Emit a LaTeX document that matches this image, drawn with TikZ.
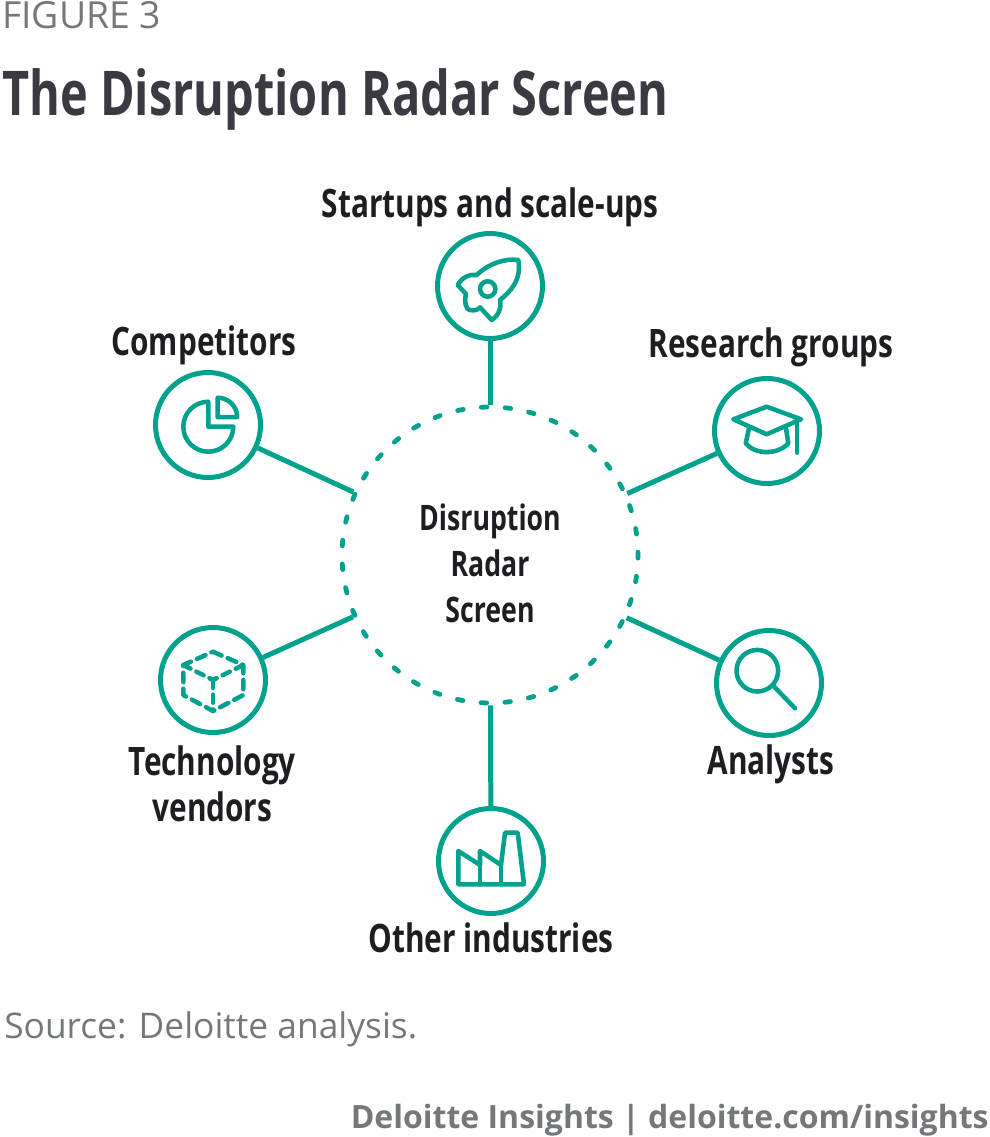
\documentclass[tikz,border=0pt]{standalone}
\usepackage{fontspec}
\setmainfont{Open Sans}
\newfontfamily\condfont[FakeStretch=0.76]{Open Sans}
\usetikzlibrary{positioning}
\definecolor{radarteal}{HTML}{00A28E}
\definecolor{inkdark}{HTML}{1E1E22}
\definecolor{titleink}{HTML}{3A3A42}
\definecolor{notegray}{HTML}{75787B}
\tikzset{
  hub/.style={circle,draw=radarteal,line width=3.75pt,minimum size=78.75pt,inner sep=0pt},
  radar/.style={circle,draw=radarteal,line width=3.6pt,line cap=round,dash pattern=on 4.2pt off 13.68pt,dash phase=2.1pt,minimum size=222pt,inner sep=0pt},
  hublabel/.style={text=inkdark,align=center,inner sep=0pt,font=\condfont\bfseries\fontsize{29.4}{34.5}\selectfont},
  spoke/.style={draw=radarteal,line width=3.75pt},
  icon/.style={draw=radarteal,line width=3.4pt,line join=round,line cap=round},
  plain/.style={anchor=base west,inner sep=0pt}
}
\begin{document}
\begin{tikzpicture}[x=.75pt,y=.75pt]
\useasboundingbox (0,0) rectangle (989,-1137);
% headings
\node[plain,text=notegray,font=\fontsize{28}{32}\selectfont] (figno) at (2,-29) {FIGURE 3};
\node[plain,text=titleink,font=\condfont\bfseries\fontsize{46.3}{50}\selectfont] (title) at (2,-115.5) {The Disruption Radar Screen};
% hubs
\node[radar] (radar) at (490,-555) {};
\node[hub] (startups) at (490,-286) {};
\node[hub] (competitors) at (208,-425) {};
\node[hub] (research) at (767,-431) {};
\node[hub] (analysts) at (769,-683) {};
\node[hub] (vendors) at (213,-680) {};
\node[hub] (industries) at (491,-861) {};
% labels
\node[hublabel,font=\condfont\bfseries\fontsize{26.35}{34.5}\selectfont] (radartxt) at (490,-563.5) {Disruption\\Radar\\Screen};
\node[hublabel,above=3pt of startups] (startupstxt) {Startups and scale-ups};
\node[hublabel,above=3.5pt of competitors,xshift=-3pt] (competitorstxt) {Competitors};
\node[hublabel,above=6.3pt of research,xshift=3pt] (researchtxt) {Research groups};
\node[hublabel,below=4.5pt of analysts,xshift=1.5pt] (analyststxt) {Analysts};
\node[hublabel,below=7.5pt of vendors,xshift=-.5pt] (vendorstxt) {Technology\\vendors};
\node[hublabel,below=5pt of industries] (industriestxt) {Other industries};
% spokes
\draw[spoke] (startups) -- (radar);
\draw[spoke] (competitors) -- (radar);
\draw[spoke] (research) -- (radar);
\draw[spoke] (analysts) -- (radar);
\draw[spoke] (vendors) -- (radar);
\draw[spoke] (industries) -- (radar);
% rocket
\draw[icon] (518.3,-260) .. controls (505,-258) and (488,-264) .. (476.7,-275)
  .. controls (470,-274) and (462,-277) .. (457.7,-285) -- (466,-294)
  .. controls (464,-302) and (466,-310) .. (470,-310) .. controls (474,-311) and (478,-310) .. (480,-307.3)
  -- (491.7,-320) .. controls (498,-316) and (502,-308) .. (500,-300)
  .. controls (510,-292) and (522,-280) .. (518.3,-260) -- cycle;
\draw[icon] (487.7,-289) circle (7.7);
% pie
\draw[icon] (208.3,-401.7) arc[start angle=90,end angle=360,radius=25] -- (208.3,-426.7) -- cycle;
\draw[icon] (217.7,-397.7) arc[start angle=90,end angle=0,radius=19.5] -- (217.7,-417.2) -- cycle;
% cap
\draw[icon] (766.7,-406.7) -- (733.3,-419.3) -- (766.7,-434.3) -- (801,-419.3) -- cycle;
\draw[icon] (797,-421.7) -- (797,-452.7);
\draw[icon] (749,-428.3) -- (745.7,-443.3) .. controls (755,-455) and (778,-455) .. (788.3,-443.3) -- (786,-428.3);
% magnifier
\draw[icon] (757.3,-670.7) circle (20.8);
\draw[icon] (773.3,-685.7) -- (795,-708.3);
% cube
\draw[icon,dash pattern=on 7pt off 5pt] (213,-651.7) -- (243.3,-665) -- (243.3,-695) -- (213,-711) -- (183.3,-695) -- (183.3,-665) -- cycle;
\draw[icon,dash pattern=on 6pt off 5pt] (183.3,-665) -- (213,-680) -- (243.3,-665);
\draw[icon,dash pattern=on 6pt off 5pt] (213,-680) -- (213,-711);
% factory
\draw[icon] (458.3,-884.3) -- (458.3,-851) -- (480,-865) -- (480,-851) -- (501,-865) -- (505,-832.7) -- (517.7,-832.7) -- (524,-884.3) -- cycle;
\draw[icon] (480,-865) -- (480,-884.3);
\draw[icon] (501,-865) -- (501,-884.3);
% notes
\node[plain,text=notegray,font=\fontsize{26.5}{32}\selectfont] (source) at (4,-1038) {Source: Deloitte analysis.};
\node[anchor=base east,inner sep=0pt,text=notegray,font=\bfseries\fontsize{24}{30}\selectfont] (credit) at (989,-1128) {Deloitte Insights | deloitte.com/insights};
\end{tikzpicture}
\end{document}
